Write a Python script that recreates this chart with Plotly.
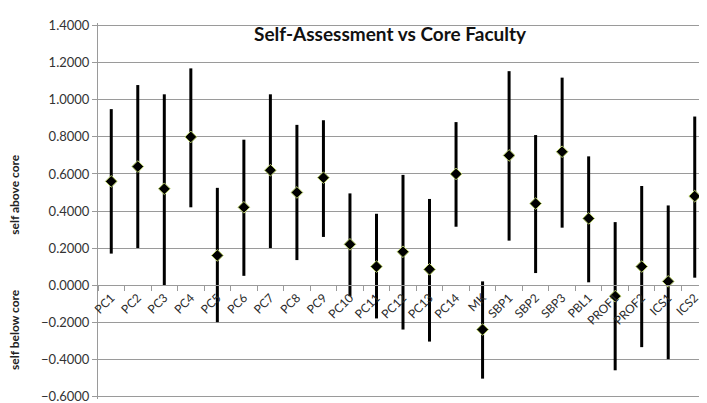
import plotly.graph_objects as go

categories = ["PC1", "PC2", "PC3", "PC4", "PC5", "PC6", "PC7", "PC8", "PC9", "PC10",
              "PC11", "PC12", "PC13", "PC14", "MK", "SBP1", "SBP2", "SBP3", "PBL1",
              "PROF1", "PROF2", "ICS1", "ICS2"]
means = [0.56, 0.64, 0.52, 0.80, 0.16, 0.42, 0.62, 0.50, 0.58, 0.22,
         0.10, 0.18, 0.085, 0.60, -0.24, 0.70, 0.44, 0.72, 0.36,
         -0.06, 0.10, 0.02, 0.48]
upper = [0.95, 1.08, 1.03, 1.17, 0.525, 0.785, 1.03, 0.865, 0.89, 0.495,
         0.385, 0.595, 0.465, 0.88, 0.02, 1.155, 0.81, 1.12, 0.695,
         0.34, 0.535, 0.43, 0.91]
lower = [0.17, 0.20, 0.00, 0.42, -0.20, 0.05, 0.20, 0.135, 0.26, -0.06,
         -0.18, -0.24, -0.305, 0.315, -0.505, 0.24, 0.065, 0.31, 0.015,
         -0.46, -0.335, -0.40, 0.04]
y_ticks = [-0.6, -0.4, -0.2, 0.0, 0.2, 0.4, 0.6, 0.8, 1.0, 1.2, 1.4]
y_range = [-0.615, 1.415]

err_plus = [u - m for u, m in zip(upper, means)]
err_minus = [m - l for m, l in zip(means, lower)]

fig = go.Figure()
fig.add_trace(go.Scatter(
    x=categories, y=means, mode="markers",
    marker=dict(symbol="diamond", size=9, color="black",
                line=dict(color="#b9cf6a", width=1)),
    error_y=dict(type="data", symmetric=False, array=err_plus, arrayminus=err_minus,
                 color="black", thickness=3, width=0),
    showlegend=False,
))

grid = "#9a9a9a"
zero_pos = (0 - y_range[0]) / (y_range[1] - y_range[0])
fig.update_layout(
    width=707, height=403,
    margin=dict(l=90, r=7, t=15, b=8),
    paper_bgcolor="white", plot_bgcolor="white",
    font=dict(family="Lato, Liberation Sans, sans-serif", color="#333333"),
    xaxis=dict(type="category", range=[-0.5, len(categories) - 0.5],
               anchor="free", position=zero_pos, showline=True, linecolor=grid, linewidth=1,
               ticks="outside", tickson="boundaries", ticklen=5, tickcolor=grid,
               tickangle=-45, tickfont=dict(size=12, color="#2a2a2a"),
               showgrid=False),
    yaxis=dict(range=y_range, tickvals=y_ticks, tickformat=".4f",
               showgrid=True, gridcolor=grid, gridwidth=1, zeroline=False,
               showline=True, linecolor=grid, linewidth=1,
               ticks="outside", ticklen=5, tickcolor=grid,
               ticklabeloverflow="allow",
               tickfont=dict(size=13, color="#333333")),
    annotations=[
        dict(text="<b>Self-Assessment vs Core Faculty</b>", xref="paper", yref="paper",
             x=0.479, y=0.972, xanchor="center", yanchor="middle", showarrow=False,
             font=dict(size=19, color="#111111")),
        dict(text="<b>self above core</b>", xref="paper", yref="y", x=-0.137, y=0.49,
             xanchor="center", yanchor="middle", textangle=-90, showarrow=False,
             font=dict(size=12, color="#222222")),
        dict(text="<b>self below core</b>", xref="paper", yref="y", x=-0.137, y=-0.24,
             xanchor="center", yanchor="middle", textangle=-90, showarrow=False,
             font=dict(size=12, color="#222222")),
    ],
)

fig.write_html("out.html")
